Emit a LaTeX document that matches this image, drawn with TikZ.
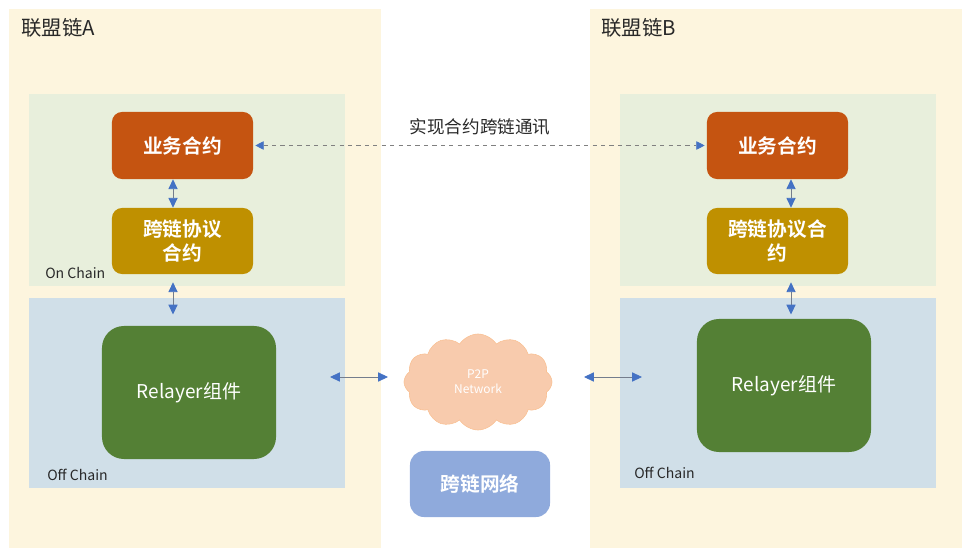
\documentclass[tikz,border=0pt]{standalone}
\usepackage{fontspec}
\setmainfont{Noto Sans CJK SC}[BoldFont={Noto Sans CJK SC Bold}]
\usepackage{xcolor}
\usetikzlibrary{arrows.meta}
\usetikzlibrary{shapes.symbols}
\definecolor{chainbg}{RGB}{253,245,222}
\definecolor{onbg}{RGB}{232,239,220}
\definecolor{offbg}{RGB}{208,223,232}
\definecolor{bizcol}{RGB}{197,84,17}
\definecolor{protocol}{RGB}{191,144,0}
\definecolor{relaycol}{RGB}{84,128,53}
\definecolor{netcol}{RGB}{143,170,220}
\definecolor{cloudcol}{RGB}{248,203,173}
\definecolor{tipblue}{RGB}{68,114,196}
\definecolor{titlecol}{RGB}{40,40,40}

\tikzset{
  region/.style={draw=none, inner sep=0pt},
  box/.style={draw=none, rounded corners=0.25cm, text=white, font=\bfseries\fontsize{14}{17}\selectfont, align=center, inner sep=0pt},
  relay/.style={box, fill=relaycol, rounded corners=0.55cm, minimum width=4.35cm, minimum height=3.325cm, font=\fontsize{13.5}{16}\selectfont},
  tag/.style={anchor=west, text=titlecol, font=\fontsize{10}{12}\selectfont, inner sep=0pt},
  link/.style={{Triangle[length=7pt,width=6.5pt,color=tipblue]}-{Triangle[length=7pt,width=6.5pt,color=tipblue]}, draw=gray!80!tipblue, line width=0.6pt},
}

\begin{document}
\begin{tikzpicture}[x=0.025cm, y=-0.025cm]
\useasboundingbox (0,0) rectangle (970,556);

%chains
\node[region, fill=chainbg, minimum width=9.3cm, minimum height=13.475cm] (chainA) at (195,278.5) {};
\node[region, fill=chainbg, minimum width=9.3cm, minimum height=13.475cm] (chainB) at (776,278.5) {};
\node[tag, font=\fontsize{14.5}{17}\selectfont] (titleA) at (21,28) {联盟链A};
\node[tag, font=\fontsize{14.5}{17}\selectfont] (titleB) at (601,28) {联盟链B};

%on / off chain
\node[region, fill=onbg, minimum width=7.9cm, minimum height=4.8cm] (onA) at (187,190) {};
\node[region, fill=offbg, minimum width=7.9cm, minimum height=4.75cm] (offA) at (187,393) {};
\node[region, fill=onbg, minimum width=7.9cm, minimum height=4.8cm] (onB) at (778,190) {};
\node[region, fill=offbg, minimum width=7.9cm, minimum height=4.75cm] (offB) at (778,393) {};
\node[tag] (onlabA) at (45,273) {On Chain};
\node[tag] (offlabA) at (47,475) {Off Chain};
\node[tag] (offlabB) at (634,473) {Off Chain};

%contracts
\node[box, fill=bizcol, minimum width=3.525cm, minimum height=1.675cm] (bizA) at (182.5,145.5) {业务合约};
\node[box, fill=protocol, minimum width=3.525cm, minimum height=1.65cm] (protoA) at (182.5,241) {跨链协议\\合约};
\node[box, fill=bizcol, minimum width=3.525cm, minimum height=1.675cm] (bizB) at (777.5,145.5) {业务合约};
\node[box, fill=protocol, minimum width=3.525cm, minimum height=1.65cm] (protoB) at (777.5,241) {跨链协议合\\约};

%relayers
\node[relay] (relayA) at (189,392.5) {Relayer组件};
\node[relay] (relayB) at (784,385.5) {Relayer组件};

%network
\node[cloud, cloud puffs=12, cloud puff arc=115, aspect=1.55, fill=cloudcol, draw=cloudcol!85!orange, line width=0.4pt,
  minimum width=3.7cm, minimum height=2.4cm, text=white, align=center, font=\fontsize{8.5}{10.5}\selectfont] (p2p) at (478,382) {P2P\\Network};
\node[box, fill=netcol, rounded corners=0.35cm, minimum width=3.5cm, minimum height=1.65cm] (net) at (480,484) {跨链网络};

\coordinate (lA) at (330,377);
\coordinate (rA) at (388,377);
\coordinate (lB) at (584,377);
\coordinate (rB) at (642,377);

%arrows
\draw[link] (bizA.south -| 173,0) -- (protoA.north -| 173,0);
\draw[link] ([yshift=-0.2cm]protoA.south -| 173,0) -- ([yshift=-0.42cm]offA.north -| 173,0);
\draw[link] (bizB.south -| 791,0) -- (protoB.north -| 791,0);
\draw[link] ([yshift=-0.2cm]protoB.south -| 791,0) -- ([yshift=-0.42cm]offB.north -| 791,0);
\draw[link] (lA) -- (rA);
\draw[link] (lB) -- (rB);
\draw[{Triangle[length=6pt,width=6pt,color=tipblue]}-{Triangle[length=6pt,width=6pt,color=tipblue]}, draw=gray, dashed, line width=0.5pt]
  ([xshift=0.05cm]bizA.east) -- ([xshift=-0.05cm]bizB.east -| bizB.west)
  node[midway, above=0.12cm, text=titlecol, font=\fontsize{12.5}{15}\selectfont] {实现合约跨链通讯};
\end{tikzpicture}
\end{document}
